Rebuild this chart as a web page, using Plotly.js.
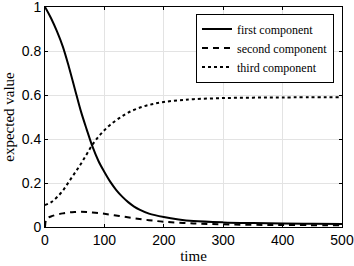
<!DOCTYPE html>
<html><head><meta charset="utf-8">
<script src="https://cdn.plot.ly/plotly-3.0.1.min.js"></script>
<style>html,body{margin:0;padding:0;background:#fff}#c{width:354px;height:266px}</style>
</head><body><div id="c"></div>
<script>
const t1 = [0,10,20,30,40,50,60,70,80,90,100,110,120,130,140,150,160,175,200,225,250,300,350,400,450,500];
const first = [1.0,0.95,0.89,0.82,0.73,0.63,0.53,0.445,0.365,0.30,0.25,0.205,0.168,0.138,0.113,0.093,0.078,0.061,0.045,0.034,0.027,0.021,0.018,0.016,0.015,0.014];
const t2 = [0,2,5,10,20,30,40,50,60,70,80,100,125,150,175,200,250,300,350,400,500];
const second = [0.0,0.035,0.042,0.048,0.056,0.062,0.066,0.068,0.069,0.068,0.066,0.06,0.05,0.04,0.031,0.024,0.016,0.012,0.01,0.009,0.008];
const t3 = [0,10,20,30,40,50,60,70,80,90,100,110,125,140,160,180,200,225,250,300,350,400,500];
const third = [0.10,0.112,0.135,0.165,0.205,0.245,0.285,0.33,0.375,0.41,0.44,0.465,0.495,0.52,0.543,0.558,0.568,0.576,0.581,0.586,0.588,0.589,0.59];
const names = ["first component","second component","third component"];

const serif = "Liberation Serif, DejaVu Serif, serif";
const sans = "Liberation Sans, Arial, sans-serif";
const data = [
  {x:t1,y:first,mode:"lines",name:names[0],line:{color:"#000",width:2,dash:"solid",shape:"spline"}},
  {x:t2,y:second,mode:"lines",name:names[1],line:{color:"#000",width:2,dash:"6px,5px",shape:"spline"}},
  {x:t3,y:third,mode:"lines",name:names[2],line:{color:"#000",width:2,dash:"dot",shape:"spline"}}
];
const axis = {showline:true,linecolor:"#000",linewidth:1,mirror:"ticks",ticks:"inside",ticklen:3,tickcolor:"#000",
  showgrid:true,gridcolor:"#e3e3e3",gridwidth:1,zeroline:false,ticklabeloverflow:"allow",
  tickfont:{family:sans,size:14,color:"#000"}};
const layout = {
  width:354,height:266,margin:{l:45,r:12,t:7,b:39},
  paper_bgcolor:"#fff",plot_bgcolor:"#fff",
  xaxis:Object.assign({},axis,{range:[0,500],tickvals:[0,100,200,300,400,500],
    title:{text:"time",font:{family:serif,size:15,color:"#000"},standoff:3}}),
  yaxis:Object.assign({},axis,{range:[0,1],tickvals:[0,0.2,0.4,0.6,0.8,1],ticktext:["0","0.2","0.4","0.6","0.8","1"],
    title:{text:"expected value",font:{family:serif,size:15,color:"#000"},standoff:3}}),
  showlegend:true,
  legend:{x:0.973,y:0.97,xanchor:"right",yanchor:"top",bgcolor:"#fff",bordercolor:"#000",borderwidth:1,
    font:{family:serif,size:12,color:"#000"},tracegroupgap:0,itemwidth:30}
};
Plotly.newPlot("c",data,layout,{staticPlot:true});
</script></body></html>
